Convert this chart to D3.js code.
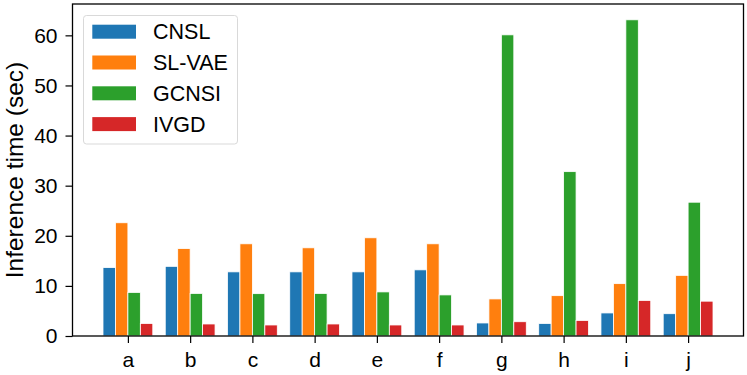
<!DOCTYPE html>
<html><head><meta charset="utf-8">
<script src="https://cdn.jsdelivr.net/npm/d3@7"></script>
<style>body{margin:0;background:#fff}svg{display:block}text{font-family:"Liberation Sans",Arial,sans-serif;fill:#000}</style>
</head><body><svg id="c" width="747" height="375"></svg>
<script>
const categories = ["a","b","c","d","e","f","g","h","i","j"];
const seriesNames = ["CNSL","SL-VAE","GCNSI","IVGD"];
const cnsl  = [13.65, 13.9, 12.8, 12.8, 12.8, 13.2, 2.6, 2.5, 4.6, 4.45];
const slvae = [22.6, 17.45, 18.4, 17.6, 19.6, 18.4, 7.4, 8.05, 10.45, 12.1];
const gcnsi = [8.7, 8.5, 8.45, 8.5, 8.8, 8.2, 60.1, 32.8, 63.1, 26.7];
const ivgd  = [2.5, 2.4, 2.2, 2.4, 2.2, 2.2, 2.85, 3.1, 7.1, 6.95];
const yTicks = [0,10,20,30,40,50,60];
const colors = ["#1f77b4","#ff7f0e","#2ca02c","#d62728"];
const series = [cnsl, slvae, gcnsi, ivgd];

const svg = d3.select("#c");
const L = 72.5, R = 743.5, T = 4, B = 336;
const x = d3.scaleLinear().domain([-0.89, 9.89]).range([L, R]);
const ymax = 63.1 * 1.05;
const y = d3.scaleLinear().domain([0, ymax]).range([B, T]);
const bw = 0.2;

series.forEach((vals, si) => {
  svg.append("g").selectAll("rect").data(vals).join("rect")
    .attr("x", (d,i) => x(i - 0.4 + si*bw))
    .attr("width", x(bw) - x(0))
    .attr("y", d => y(d))
    .attr("height", d => y(0) - y(d))
    .attr("fill", colors[si])
    .attr("stroke", "#fff").attr("stroke-width", 0.8);
});

// axes
const yAxis = d3.axisLeft(y).tickValues(yTicks).tickSize(7).tickPadding(8);
const gy = svg.append("g").attr("transform", `translate(${L},0)`).call(yAxis);
gy.select(".domain").remove();
gy.selectAll(".tick line").attr("stroke","#000").attr("stroke-width",1.2);
gy.selectAll(".tick text").attr("font-size","21px").attr("font-family","Liberation Sans, Arial, sans-serif");

const xAxis = d3.axisBottom(x).tickValues(d3.range(categories.length)).tickFormat(i => categories[i]).tickSize(7).tickPadding(9);
const gx = svg.append("g").attr("transform", `translate(0,${B})`).call(xAxis);
gx.select(".domain").remove();
gx.selectAll(".tick line").attr("stroke","#000").attr("stroke-width",1.2);
gx.selectAll(".tick text").attr("font-size","21px").attr("font-family","Liberation Sans, Arial, sans-serif");

// spines
svg.append("rect").attr("x", L).attr("y", T).attr("width", R-L).attr("height", B-T)
  .attr("fill","none").attr("stroke","#000").attr("stroke-width",1.3);

// y label
svg.append("text").attr("transform", `translate(22.5,${(T+B)/2}) rotate(-90)`)
  .attr("text-anchor","middle").attr("font-size","24.5px").text("Inference time (sec)");

// legend
const lg = svg.append("g");
lg.append("rect").attr("x",83.5).attr("y",15.5).attr("width",154).attr("height",128.5)
  .attr("rx",3).attr("fill","#fff").attr("fill-opacity",0.8).attr("stroke","#d9d9d9").attr("stroke-width",1);
seriesNames.forEach((n,i) => {
  const cy = 31.7 + i*30.8;
  lg.append("rect").attr("x",92.3).attr("y",cy-7).attr("width",43.7).attr("height",14).attr("fill",colors[i]);
  lg.append("text").attr("x",153).attr("y",cy).attr("dy","0.36em").attr("font-size","21.5px").text(n);
});
</script></body></html>
